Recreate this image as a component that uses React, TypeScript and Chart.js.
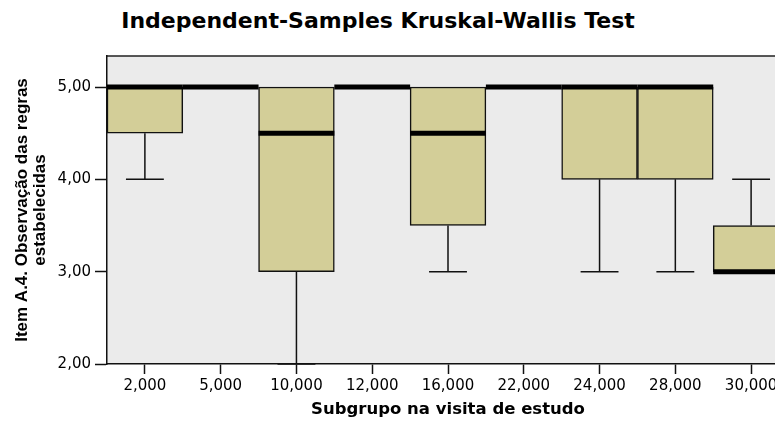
import React, { useEffect, useRef } from "react";
import { Chart, registerables } from "chart.js";

Chart.register(...registerables);

const chartTitle = "Independent-Samples Kruskal-Wallis Test";
const xAxisTitle = "Subgrupo na visita de estudo";
const yAxisTitle = ["Item A.4. Observação das regras", "estabelecidas"];

const categories = ["2,000", "5,000", "10,000", "12,000", "16,000", "22,000", "24,000", "28,000", "30,000"];
const minValues = [4, 5, 2, 5, 3, 5, 3, 3, 3];
const q1Values = [4.5, 5, 3, 5, 3.5, 5, 4, 4, 3];
const medianValues = [5, 5, 4.5, 5, 4.5, 5, 5, 5, 3];
const q3Values = [5, 5, 5, 5, 5, 5, 5, 5, 3.5];
const maxValues = [5, 5, 5, 5, 5, 5, 5, 5, 4];

const yTickValues = [2, 3, 4, 5];
const yTickLabels = ["2,00", "3,00", "4,00", "5,00"];

const boxFill = "#d3ce98";
const plotBg = "#ebebeb";

const boxPlotPlugin = {
  id: "boxPlotExtras",
  beforeDraw(chart: any) {
    const { ctx, chartArea } = chart;
    ctx.save();
    ctx.fillStyle = plotBg;
    ctx.fillRect(chartArea.left, chartArea.top, chartArea.right - chartArea.left, chartArea.bottom - chartArea.top);
    ctx.strokeStyle = "#222";
    ctx.lineWidth = 1.5;
    ctx.beginPath();
    ctx.moveTo(chartArea.left, chartArea.top);
    ctx.lineTo(chartArea.right, chartArea.top);
    ctx.lineTo(chartArea.right, chartArea.bottom);
    ctx.stroke();
    ctx.restore();
  },
  afterDatasetsDraw(chart: any) {
    const { ctx } = chart;
    const yScale = chart.scales.y;
    const meta = chart.getDatasetMeta(0);
    ctx.save();
    meta.data.forEach((bar: any, i: number) => {
      const x = bar.x;
      const w = bar.width;
      const capHalf = w / 4;
      const yMin = yScale.getPixelForValue(minValues[i]);
      const yQ1 = yScale.getPixelForValue(q1Values[i]);
      const yQ3 = yScale.getPixelForValue(q3Values[i]);
      const yMax = yScale.getPixelForValue(maxValues[i]);
      ctx.strokeStyle = "#111";
      ctx.lineWidth = 1.5;
      if (minValues[i] < q1Values[i]) {
        ctx.beginPath();
        ctx.moveTo(x, yQ1);
        ctx.lineTo(x, yMin);
        ctx.moveTo(x - capHalf, yMin);
        ctx.lineTo(x + capHalf, yMin);
        ctx.stroke();
      }
      if (maxValues[i] > q3Values[i]) {
        ctx.beginPath();
        ctx.moveTo(x, yQ3);
        ctx.lineTo(x, yMax);
        ctx.moveTo(x - capHalf, yMax);
        ctx.lineTo(x + capHalf, yMax);
        ctx.stroke();
      }
      const yMed = yScale.getPixelForValue(medianValues[i]);
      ctx.strokeStyle = "#000";
      ctx.lineWidth = 5;
      ctx.beginPath();
      ctx.moveTo(x - w / 2, yMed);
      ctx.lineTo(x + w / 2, yMed);
      ctx.stroke();
    });
    ctx.restore();
  },
};

export default function App() {
  const canvasRef = useRef<HTMLCanvasElement | null>(null);

  useEffect(() => {
    if (!canvasRef.current) return;
    const chart = new Chart(canvasRef.current, {
      type: "bar",
      data: {
        labels: categories,
        datasets: [
          {
            data: categories.map((_, i) => [q1Values[i], q3Values[i]]) as any,
            backgroundColor: boxFill,
            borderColor: "#111",
            borderWidth: 1.5,
            borderSkipped: false,
            barPercentage: 1,
            categoryPercentage: 1,
          },
        ],
      },
      options: {
        responsive: false,
        animation: false,
        devicePixelRatio: 1,
        layout: { padding: { top: 56, left: 0, right: 1, bottom: 0 } },
        plugins: {
          legend: { display: false },
          tooltip: { enabled: false },
          title: { display: false },
        },
        scales: {
          x: {
            type: "category",
            offset: true,
            grid: {
              offset: false,
              drawOnChartArea: false,
              drawTicks: true,
              tickLength: 10,
              tickWidth: 1.5,
              tickColor: "#111",
            },
            border: { display: true, color: "#111", width: 1.5 },
            ticks: {
              color: "#000",
              padding: 3,
              maxRotation: 0,
              autoSkip: false,
              font: { family: "DejaVu Sans", size: 15 },
            },
            title: {
              display: true,
              text: xAxisTitle,
              color: "#000",
              padding: { top: 0, bottom: 1 },
              font: { family: "DejaVu Sans", size: 16.5, weight: "bold" },
            },
            afterFit(scale: any) {
              scale.height = 57;
            },
          },
          y: {
            type: "linear",
            min: 2,
            max: 5.336,
            grid: {
              drawOnChartArea: false,
              drawTicks: true,
              tickLength: 12,
              tickWidth: 1.5,
              tickColor: "#111",
            },
            border: { display: true, color: "#111", width: 1.5 },
            ticks: {
              color: "#000",
              padding: 4,
              font: { family: "DejaVu Sans", size: 15 },
              callback: (value: any) => {
                const idx = yTickValues.indexOf(Number(value));
                return idx >= 0 ? yTickLabels[idx] : "";
              },
            },
            afterBuildTicks(scale: any) {
              scale.ticks = yTickValues.map((v) => ({ value: v }));
            },
            title: {
              display: true,
              text: yAxisTitle,
              color: "#000",
              padding: { top: 13, bottom: 0 },
              font: { family: "Liberation Sans", size: 17, weight: "bold", lineHeight: 1.06 },
            },
            afterFit(scale: any) {
              scale.width = 107;
            },
          },
        },
      },
      plugins: [boxPlotPlugin],
    } as any);
    return () => chart.destroy();
  }, []);

  return (
    <div
      style={{
        position: "fixed",
        left: 0,
        top: 0,
        width: 775,
        height: 421,
        overflow: "hidden",
        background: "#fff",
      }}
    >
      <div
        style={{
          position: "absolute",
          left: 0,
          top: 10,
          width: 756,
          textAlign: "center",
          fontFamily: "'DejaVu Sans', sans-serif",
          fontWeight: "bold",
          fontSize: 22,
          lineHeight: "22px",
          color: "#000",
          whiteSpace: "nowrap",
        }}
      >
        {chartTitle}
      </div>
      <canvas
        ref={canvasRef}
        width={790}
        height={421}
        style={{ position: "absolute", left: 0, top: 0, display: "block" }}
      />
    </div>
  );
}
